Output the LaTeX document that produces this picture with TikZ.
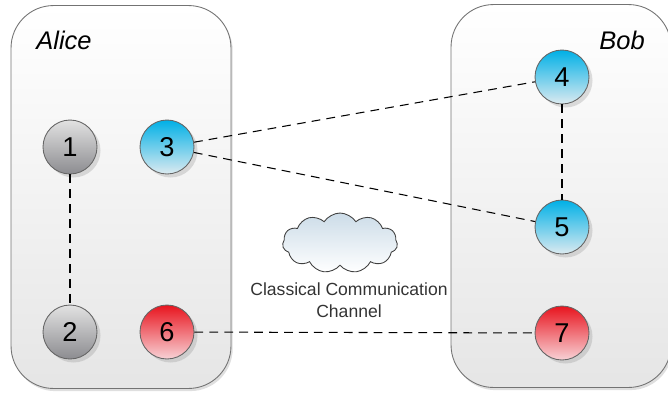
\documentclass[tikz,border=0pt]{standalone}
\usepackage{fontspec}
\setmainfont{Liberation Sans}
\usetikzlibrary{shapes.symbols,shadows,positioning}

\definecolor{qblue}{HTML}{00B0E6}
\definecolor{qbluelow}{HTML}{DCEAF0}
\definecolor{qred}{HTML}{E8141E}
\definecolor{qredlow}{HTML}{F8D2D6}
\definecolor{qgrey}{HTML}{E2E2E2}
\definecolor{qgreylow}{HTML}{8C8C90}
\definecolor{skytop}{HTML}{CCDCE8}

\begin{document}
\begin{tikzpicture}[
    x=0.02cm, y=-0.02cm,
    party/.style={rectangle, draw=black!55, line width=0.5pt, rounded corners=0.85cm, top color=white, bottom color=black!10, minimum width=4.4cm, minimum height=7.66cm, drop shadow={shadow xshift=1pt, shadow yshift=-1.5pt, opacity=0.25}},
    partyname/.style={font=\fontsize{14.5}{17}\selectfont\itshape, anchor=base},
    qubit/.style={circle, draw=black!60, line width=0.5pt, minimum size=1.08cm, inner sep=0pt, font=\fontsize{15.5}{18}\selectfont, drop shadow={shadow xshift=2pt, shadow yshift=-2pt, opacity=0.25}},
    greyq/.style={qubit, top color=qgrey, bottom color=qgreylow},
    blueq/.style={qubit, top color=qblue, bottom color=qbluelow},
    redq/.style={qubit, top color=qred, bottom color=qredlow},
    link/.style={dash pattern=on 5pt off 3.5pt, line width=0.6pt}
]
\useasboundingbox (0,0) rectangle (668,393);

% Parties
\node[party] (alice) at (121,197) {};
\node[party] (bob) at (561,196) {};
\node[partyname] (alicename) at (64,49) {Alice};
\node[partyname] (bobname) at (622,49) {Bob};

% Qubits
\node[greyq] (q1) at (70,147) {1};
\node[greyq] (q2) at (70,332) {2};
\node[blueq] (q3) at (167,147) {3};
\node[redq] (q6) at (167,332) {6};
\node[blueq] (q4) at (562,77) {4};
\node[blueq] (q5) at (562,227) {5};
\node[redq] (q7) at (562,333) {7};

% Channel
\node[cloud, cloud puffs=11, cloud puff arc=115, aspect=1.9, draw=black!75, line width=0.5pt, top color=skytop, bottom color=white, minimum width=2.3cm, minimum height=1.2cm] (cloud) at (340,243) {};
\node[align=center, font=\fontsize{10}{12.5}\selectfont, text=black!80, below=0.22cm of cloud, xshift=0.18cm] (chanlabel) {Classical Communication\\Channel};

% Links
\draw[link] (q1) -- (q2);
\draw[link] (q4) -- (q5);
\draw[link] (q3) -- (q4);
\draw[link] (q3) -- (q5);
\draw[link] (q6) -- (q7);

\end{tikzpicture}
\end{document}
